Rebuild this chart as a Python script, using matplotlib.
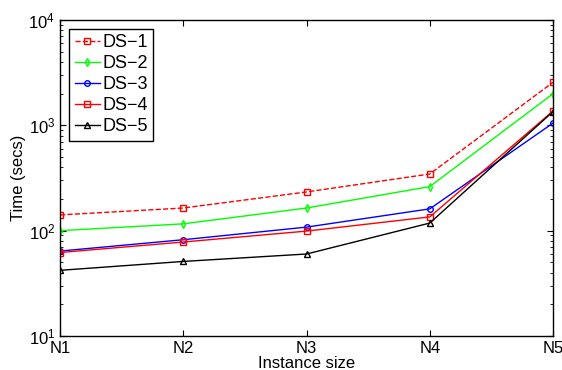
import numpy as np
import matplotlib
matplotlib.use('Agg')
import matplotlib.pyplot as plt
from matplotlib.ticker import LogLocator

sizes = ['N1', 'N2', 'N3', 'N4', 'N5']
ds1 = [141, 164, 233, 345, 2560]
ds2 = [100, 116, 164, 262, 1995]
ds3 = [64, 82, 108, 161, 1050]
ds4 = [62, 78, 99, 135, 1367]
ds5 = [42, 51, 60, 118, 1350]

plt.rcParams['font.family'] = 'Liberation Sans'
plt.rcParams['mathtext.fontset'] = 'custom'
plt.rcParams['mathtext.rm'] = 'Liberation Sans'
plt.rcParams['mathtext.it'] = 'Liberation Sans'

fig = plt.figure(figsize=(5.62, 3.70), dpi=100)
ax = fig.add_axes([0.107, 0.092, 0.877, 0.854])

x = np.arange(1, len(sizes) + 1)
# MATLAB-like styling: small open markers, pure colours
ax.plot(x, ds1, '--', color='#ff0000', marker='s', ms=4, mfc='none', lw=1, label='DS\u22121')
ax.plot(x, ds2, '-', color='#00ff00', marker='d', ms=4, mfc='none', lw=1, label='DS\u22122')
ax.plot(x, ds3, '-', color='#0000ff', marker='o', ms=4, mfc='none', lw=1, label='DS\u22123')
ax.plot(x, ds4, '-', color='#ff0000', marker='s', ms=4, mfc='none', lw=1, label='DS\u22124')
ax.plot(x, ds5, '-', color='#000000', marker='^', ms=4, mfc='none', lw=1, label='DS\u22125')

ax.set_yscale('log')
ax.set_ylim(10, 1e4)
ax.set_xlim(1, 5)
ax.set_xticks(x)
ax.set_xticklabels(sizes)
ax.yaxis.set_major_locator(LogLocator(base=10))
ax.yaxis.set_minor_locator(LogLocator(base=10, subs=np.arange(2, 10)))

ax.tick_params(which='both', direction='in', top=True, right=True, labelsize=12)
ax.tick_params(which='major', length=4)
ax.tick_params(which='minor', length=2)
for s in ax.spines.values():
    s.set_linewidth(1)

ax.set_xlabel('Instance size', fontsize=12, labelpad=0)
ax.set_ylabel('Time (secs)', fontsize=12, labelpad=2)

leg = ax.legend(loc='upper left', fontsize=13, fancybox=False, framealpha=1,
                edgecolor='black', handlelength=1.4, handletextpad=0.15,
                labelspacing=0.22, borderpad=0.3, borderaxespad=0.5)
leg.get_frame().set_linewidth(1)

fig.savefig('out.png', dpi=100)
